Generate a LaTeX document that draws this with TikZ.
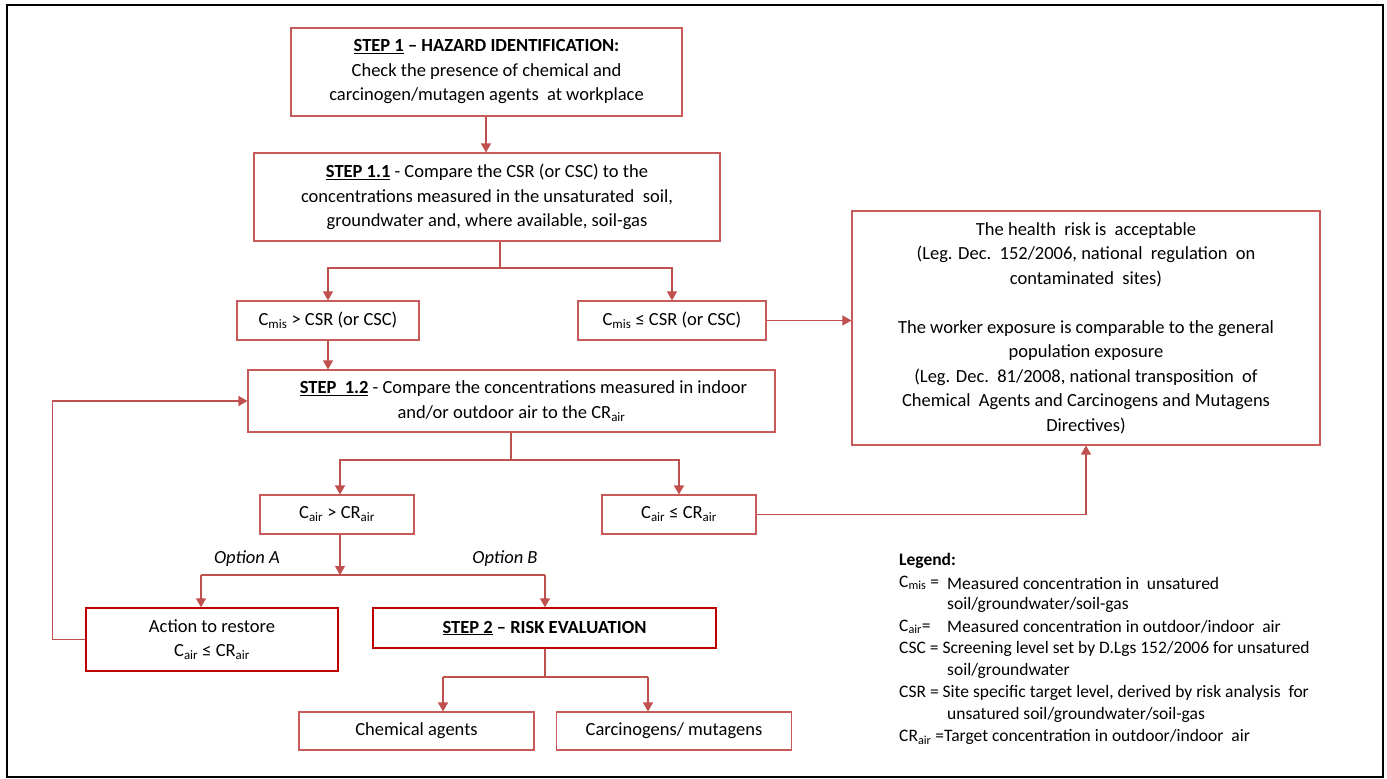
\documentclass[tikz,border=0pt]{standalone}
\usepackage{fontspec}
\setmainfont{Carlito}
\usetikzlibrary{arrows.meta,calc}
\definecolor{ared}{RGB}{192,80,77}
\definecolor{bred}{RGB}{200,90,90}
\definecolor{sred}{RGB}{192,0,0}
\newcommand\mainsz{\fontsize{18.5}{24.5}\selectfont}
\newcommand\legsz{\fontsize{17.5}{22}\selectfont}
\newcommand\lo[1]{\textsubscript{#1}}
\tikzset{
  box/.style={draw=bred, line width=1.1pt, fill=white, align=center, inner sep=2pt, font=\mainsz},
  strongbox/.style={box, draw=sred, line width=1.4pt},
  link/.style={draw=ared, line width=1.3pt},
  arr/.style={link, -{Triangle[width=10pt,length=9pt]}},
  opt/.style={font=\mainsz\itshape, inner sep=0pt},
  leg/.style={font=\legsz, inner sep=0pt, anchor=west}
}
\begin{document}
\begin{tikzpicture}[x=1pt,y=-1pt]
\useasboundingbox (0,0) rectangle (1387,779);
\draw[line width=2.5pt] (7,5) rectangle (1383,777);

% process boxes
\node[box, minimum width=391, minimum height=88] (s1) at (486.5,72)
  {\textbf{\underline{STEP 1} – HAZARD IDENTIFICATION:}\\Check the presence of chemical and\\carcinogen/mutagen agents\ \ at workplace};
\node[box, minimum width=466, minimum height=88] (s11) at (487,197)
  {\textbf{\underline{STEP 1.1}} - Compare the CSR (or CSC) to the\\concentrations measured in the unsaturated\ \ soil,\\groundwater and, where available, soil-gas};
\node[box, minimum width=182, minimum height=39] (cm1) at (328,320.5)
  {C\lo{mis} > CSR (or CSC)};
\node[box, minimum width=188, minimum height=39] (cm2) at (672,320.5)
  {C\lo{mis} ≤ CSR (or CSC)};
\node[box, minimum width=527, minimum height=62] (s12) at (511.5,401)
  {\hspace*{24pt}\textbf{\underline{STEP\ \ 1.2}} - Compare the concentrations measured in indoor\\and/or outdoor air to the CR\lo{air}};
\node[box, minimum width=468, minimum height=234] (ok) at (1086,328)
  {The health\ \ risk is\ \ acceptable\\(Leg. Dec.\ \ 152/2006, national\ \ regulation\ \ on\\contaminated\ \ sites)\\[24.5pt]
   The worker exposure is comparable to the general\\population exposure\\(Leg. Dec.\ \ 81/2008, national transposition\ \ of\\Chemical\ \ Agents and Carcinogens and Mutagens\\Directives)};
\node[box, minimum width=154, minimum height=39] (ca1) at (337,514.5)
  {C\lo{air} > CR\lo{air}};
\node[box, minimum width=154, minimum height=39] (ca2) at (679,514.5)
  {C\lo{air} ≤ CR\lo{air}};
\node[strongbox, minimum width=252, minimum height=63] (act) at (212,639.5)
  {Action to restore\\C\lo{air} ≤ CR\lo{air}};
\node[strongbox, minimum width=343, minimum height=40] (s2) at (544.5,628)
  {\textbf{\underline{STEP 2} – RISK EVALUATION}};
\node[box, minimum width=235, minimum height=38] (chem) at (416.5,731)
  {Chemical agents};
\node[box, minimum width=235, minimum height=38] (carc) at (674,731)
  {Carcinogens/ mutagens};

% junction points of the branching connectors
\coordinate (j1) at (500,268);
\coordinate (j2) at (511,460);
\coordinate (j3) at (340,575);
\coordinate (jA) at (201,575);
\coordinate (jB) at (545,575);
\coordinate (j4) at (545,677);
\coordinate (jC) at (443,677);
\coordinate (jD) at (648,677);

% connectors
\draw[arr] (s1.south -| 486,0) -- (s11.north -| 486,0);
\draw[link] (s11.south -| j1) -- (j1);
\draw[arr] (j1) -| (cm1.north);
\draw[arr] (j1) -| (cm2.north);
\draw[arr] (cm1.south) -- (s12.north -| cm1.south);
\draw[arr] (cm2.east) -- (ok.west |- cm2.east);
\draw[link] (s12.south -| j2) -- (j2);
\draw[arr] (j2) -| (ca1.north -| j3);
\draw[arr] (j2) -| (ca2.north);
\draw[arr] (ca2.east) -| (ok.south);
\draw[arr] (ca1.south -| j3) -- (j3);
\draw[link] (jA) -- (jB);
\draw[arr] (jA) -- (act.north -| jA);
\draw[arr] (jB) -- (s2.north -| jB);
\draw[arr] (act.west) -- ++(-33,0) |- (s12.west);
\draw[link] (s2.south -| j4) -- (j4);
\draw[link] (jC) -- (jD);
\draw[arr] (jC) -- (chem.north -| jC);
\draw[arr] (jD) -- (carc.north -| jD);

% option labels
\node[opt] (oa) at (247,559) {Option A};
\node[opt] (ob) at (505,559) {Option B};

% legend
\node[leg] (lg) at (899,561) {\textbf{Legend:}};
\node[leg] (l1a) at (899,583) {C\lo{mis} =};
\node[leg] (l1b) at (947,583) {Measured concentration in\ \ unsatured};
\node[leg] (l1c) at (947,605) {soil/groundwater/soil-gas};
\node[leg] (l2a) at (899,627) {C\lo{air}=};
\node[leg] (l2b) at (947,627) {Measured concentration in outdoor/indoor\ \ air};
\node[leg] (l3a) at (899,649) {CSC = Screening level set by D.Lgs 152/2006 for unsatured};
\node[leg] (l3b) at (947,671) {soil/groundwater};
\node[leg] (l4a) at (899,693) {CSR = Site specific target level, derived by risk analysis\ \ for};
\node[leg] (l4b) at (947,715) {unsatured soil/groundwater/soil-gas};
\node[leg] (l5) at (899,737) {CR\lo{air} =Target concentration in outdoor/indoor\ \ air};
\end{tikzpicture}
\end{document}
